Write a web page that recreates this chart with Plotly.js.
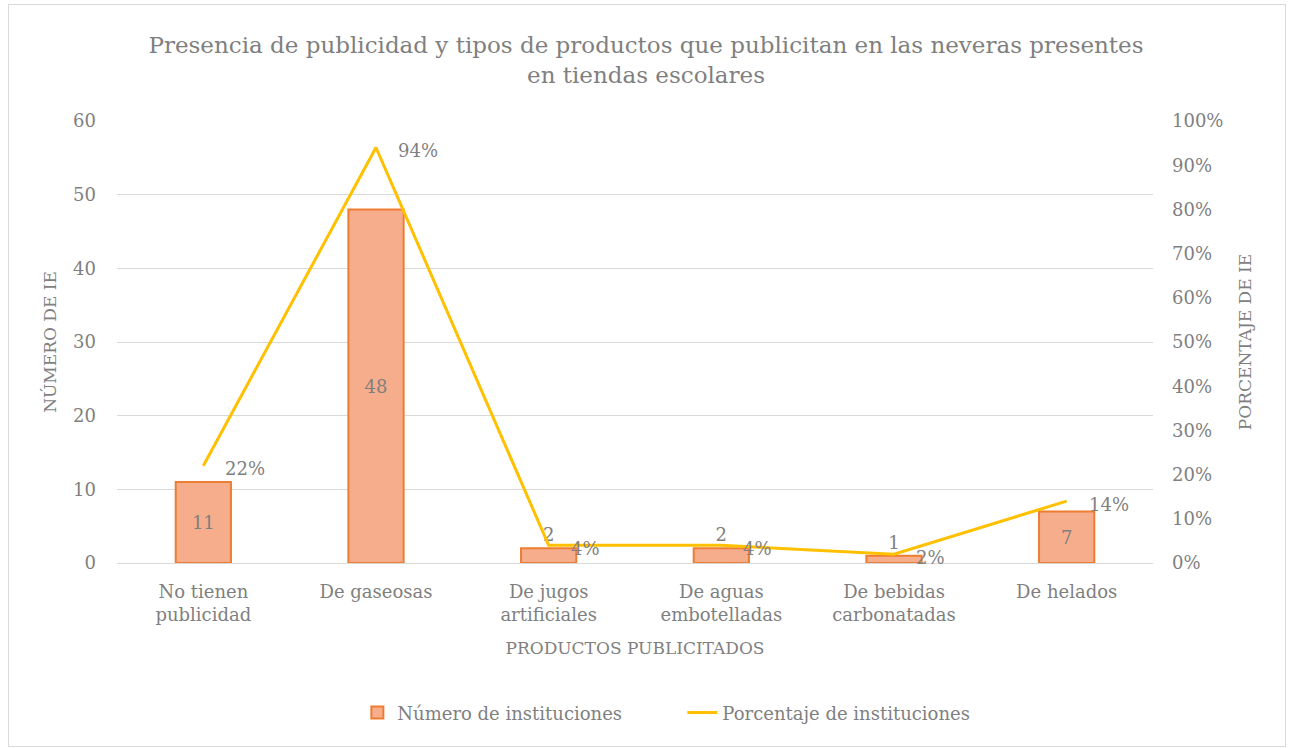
<!DOCTYPE html>
<html><head><meta charset="utf-8">
<script src="https://cdn.plot.ly/plotly-3.0.1.min.js"></script>
<style>
body{margin:0;background:#fff;}
#wrap{position:relative;width:1292px;height:748px;}
#chart{width:1292px;height:748px;}
#frame{position:absolute;left:8px;top:4px;width:1276px;height:741px;border:1px solid #D9D9D9;pointer-events:none;}
</style></head>
<body><div id="wrap"><div id="chart"></div><div id="frame"></div></div>
<script>
const categories = ["No tienen<br>publicidad","De gaseosas","De jugos<br>artificiales","De aguas<br>embotelladas","De bebidas<br>carbonatadas","De helados"];
const numeroInstituciones = [11, 48, 2, 2, 1, 7];
const porcentajeInstituciones = [0.22, 0.94, 0.04, 0.04, 0.02, 0.14];
const leftTicks = [0,10,20,30,40,50,60];
const rightTicks = [0,0.1,0.2,0.3,0.4,0.5,0.6,0.7,0.8,0.9,1.0];

const FONT = "DejaVu Serif, Liberation Serif, serif";
const GRAY = "#7F7F7F";

const barTrace = {
  type:'bar', name:'Número de instituciones',
  x:categories, y:numeroInstituciones,
  marker:{color:'#F5AD8C', line:{color:'#ED7D31', width:2}},
  text:numeroInstituciones.map(String),
  textposition:numeroInstituciones.map(v => v >= 5 ? 'inside' : 'outside'),
  insidetextanchor:'middle',
  constraintext:'none',
  cliponaxis:false,
  textfont:{family:FONT, size:18, color:GRAY},
  hoverinfo:'skip'
};
const lineTrace = {
  type:'scatter', mode:'lines', name:'Porcentaje de instituciones',
  x:categories, y:porcentajeInstituciones, yaxis:'y2',
  line:{color:'#FFC000', width:3},
  cliponaxis:false,
  hoverinfo:'skip'
};

const pctAnnotations = porcentajeInstituciones.map((v,i) => ({
  x:categories[i], y:v, xref:'x', yref:'y2',
  text:Math.round(v*100)+'%', showarrow:false,
  xanchor:'left', yanchor:'middle', xshift:20, yshift:-3,
  font:{family:FONT, size:18, color:GRAY}
}));

const layout = {
  width:1292, height:748,
  margin:{l:117, r:139, t:121, b:185},
  paper_bgcolor:'#fff', plot_bgcolor:'#fff',
  font:{family:FONT, color:GRAY, size:18},
  title:{text:'Presencia de publicidad y tipos de productos que publicitan en las neveras presentes<br>en tiendas escolares',
    font:{family:FONT, size:23, color:GRAY}, x:0.5, xanchor:'center', y:1-53/748, yanchor:'top', yref:'container'},
  bargap:0.68,
  showlegend:true,
  legend:{orientation:'h', x:0.232, xanchor:'left', y:-0.297, yanchor:'top', entrywidth:280,
    font:{family:FONT,size:18,color:GRAY}, traceorder:'normal'},
  annotations:pctAnnotations,
  xaxis:{title:{text:'PRODUCTOS PUBLICITADOS', font:{family:FONT,size:17,color:GRAY}, standoff:18},
    tickfont:{family:FONT,size:18,color:GRAY}, showline:true, linecolor:'#D9D9D9', linewidth:1, ticks:'', ticklabelstandoff:12, fixedrange:true},
  yaxis:{range:[0,60], tickvals:leftTicks, ticktext:leftTicks.map(String), gridcolor:'#D9D9D9', gridwidth:1,
    zeroline:false, showline:false, ticks:'', ticklabelstandoff:20, tickfont:{family:FONT,size:18,color:GRAY},
    title:{text:'NÚMERO DE IE', font:{family:FONT,size:17,color:GRAY}, standoff:12}},
  yaxis2:{range:[0,1], overlaying:'y', side:'right', tickvals:rightTicks, ticktext:rightTicks.map(v=>Math.round(v*100)+'%'),
    showgrid:false, zeroline:false, showline:false, ticks:'', ticklabelstandoff:18, tickfont:{family:FONT,size:18,color:GRAY},
    title:{text:'PORCENTAJE DE IE', font:{family:FONT,size:17,color:GRAY}, standoff:16}}
};
Plotly.newPlot('chart',[barTrace,lineTrace],layout,{displayModeBar:false,staticPlot:true});
</script></body></html>
